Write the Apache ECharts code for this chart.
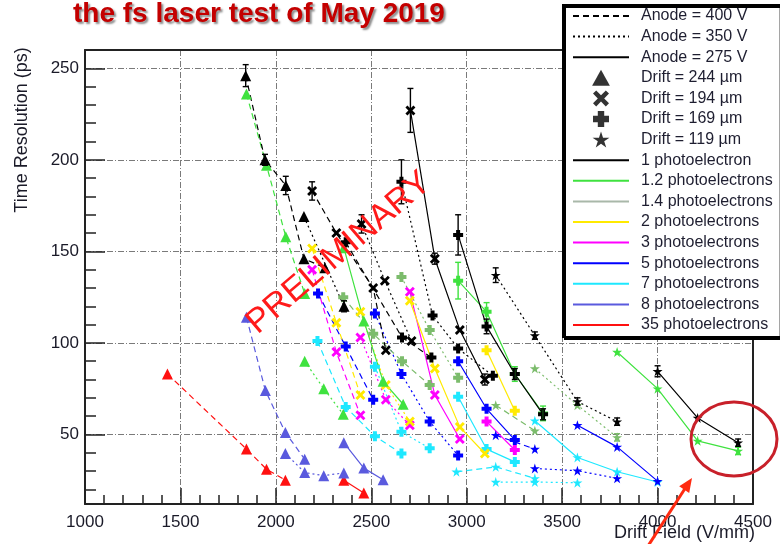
<!DOCTYPE html>
<html>
<head>
<meta charset="utf-8">
<script src="https://cdn.jsdelivr.net/npm/echarts@6/dist/echarts.min.js"></script>
<style>
html,body{margin:0;padding:0;background:#fff;}
#chart{width:780px;height:544px;}
</style>
</head>
<body>
<div id="chart"></div>
<script>
// Axis ticks
const xTicks = [1000, 1500, 2000, 2500, 3000, 3500, 4000, 4500];
const yTicks = [50, 100, 150, 200, 250];
const yMinorTicks = [20, 30, 40, 60, 70, 80, 90, 110, 120, 130, 140, 160, 170, 180, 190, 210, 220, 230, 240];

// Measurements: [drift field (V/mm), time resolution (ps), error (ps)]
// name pattern: pe<photoelectrons>_<anode V>_<drift um>
const pe1_400_244 = [[1842, 246, 6], [1943, 200, 3], [2052, 186, 5], [2147, 146, 0], [2257, 141, 0]];
const pe1_350_244 = [[2147, 169, 0], [2357, 120, 3]];
const pe1_400_194 = [[2190, 183, 5], [2317, 160, 0], [2510, 130, 0], [2576, 96, 0]];
const pe1_350_194 = [[2449, 165, 5], [2571, 134, 0], [2711, 101, 0]];
const pe1_275_194 = [[2705, 227, 12], [2833, 146, 3], [2964, 107, 0], [3095, 80, 3]];
const pe1_400_169 = [[2366, 155, 0], [2661, 103, 0], [2815, 92, 0]];
const pe1_350_169 = [[2658, 188, 12], [2821, 115, 0], [2955, 97, 0], [3137, 82, 0]];
const pe1_275_169 = [[2955, 159, 11], [3104, 109, 4], [3252, 83, 3], [3400, 61, 3]];
const pe1_350_119 = [[3152, 137, 4], [3357, 104, 2], [3580, 68, 2], [3788, 57, 2]];
const pe1_275_119 = [[4000, 84.5, 3], [4210, 59, 0], [4422, 45.5, 2]];

const pe12_400_244 = [[1846, 236, 0], [1951, 197, 0], [2052, 158, 0], [2151, 127, 0]];
const pe12_350_244 = [[2151, 90, 0], [2251, 75, 0], [2353, 61, 0]];
const pe12_275_244 = [[2356, 152, 0], [2461, 112, 0], [2562, 79, 0], [2667, 66.5, 0]];
const pe12_275_169 = [[2955, 134, 10], [3104, 117, 5], [3252, 83, 4], [3400, 61.5, 4]];
const pe12_275_119 = [[3788, 95, 0], [4000, 75, 0], [4210, 46.5, 0], [4422, 41, 2]];

const pe14_400_169 = [[2353, 125, 0], [2510, 105, 0], [2661, 90, 0], [2806, 77, 0]];
const pe14_350_169 = [[2658, 136, 0], [2806, 107, 0], [2955, 81, 0]];
const pe14_400_119 = [[3152, 66, 0], [3357, 52, 0]];
const pe14_350_119 = [[3357, 86, 0], [3580, 66, 0], [3788, 48.4, 2]];

const pe2_400_194 = [[2190, 151.6, 0], [2317, 111, 0], [2443, 71.5, 0]];
const pe2_350_194 = [[2443, 117, 0], [2576, 77, 0], [2702, 57, 0]];
const pe2_275_194 = [[2702, 123, 0], [2833, 86, 0], [2964, 54, 0], [3095, 39.6, 0]];
const pe2_275_169 = [[3104, 96, 0], [3252, 63, 0]];

const pe3_400_194 = [[2190, 140, 0], [2317, 95, 0], [2443, 60.5, 0]];
const pe3_350_194 = [[2443, 103, 0], [2576, 69, 0], [2702, 55, 0]];
const pe3_275_194 = [[2702, 128, 0], [2833, 71.5, 0], [2964, 47.5, 0]];
const pe3_275_169 = [[3104, 57, 0], [3252, 41.5, 0]];

const pe5_400_169 = [[2221, 127, 0], [2366, 98, 0], [2510, 69, 0]];
const pe5_350_169 = [[2519, 116, 0], [2658, 83, 0], [2806, 57, 0], [2955, 38.5, 0]];
const pe5_275_169 = [[2955, 90, 0], [3104, 64, 0], [3252, 47, 0]];
const pe5_400_119 = [[3152, 49.6, 0], [3357, 42, 0]];
const pe5_350_119 = [[3357, 31.4, 0], [3580, 30.2, 0], [3788, 26, 0]];
const pe5_275_119 = [[3580, 55, 0], [3788, 43.2, 0], [4000, 24.5, 0]];

const pe7_400_169 = [[2218, 101, 0], [2366, 65, 0], [2519, 49, 0], [2658, 39.6, 0]];
const pe7_350_169 = [[2519, 87, 0], [2658, 51.4, 0], [2806, 42.4, 0]];
const pe7_275_169 = [[2955, 70.6, 0], [3104, 42, 0], [3252, 35, 0]];
const pe7_400_119 = [[2946, 29.6, 0], [3152, 32.3, 0], [3357, 26, 0]];
const pe7_350_119 = [[3152, 24, 0], [3357, 24, 0], [3580, 23.6, 0]];
const pe7_275_119 = [[3357, 57.5, 0], [3580, 37.4, 0], [3788, 29.6, 0], [4000, 24, 0]];

const pe8_400_244 = [[1846, 114, 0], [1945, 74, 0], [2050, 51, 0], [2151, 36.5, 0]];
const pe8_350_244 = [[2050, 39.6, 0], [2151, 29.2, 0], [2251, 27.5, 0], [2356, 29, 0]];
const pe8_275_244 = [[2356, 45.5, 0], [2461, 31.6, 0], [2562, 25.3, 0]];

const pe35_400_244 = [[1432, 83, 0], [1846, 42, 0], [1951, 31, 0], [2050, 25, 0]];
const pe35_275_244 = [[2356, 25, 0], [2461, 18, 0]];

// Which curve belongs to which setting: [photoelectrons, anode V, drift um, points]
const curves = [
  ['35', 400, 244, pe35_400_244], ['35', 275, 244, pe35_275_244],
  ['8', 400, 244, pe8_400_244], ['8', 350, 244, pe8_350_244], ['8', 275, 244, pe8_275_244],
  ['7', 400, 169, pe7_400_169], ['7', 350, 169, pe7_350_169], ['7', 275, 169, pe7_275_169],
  ['7', 400, 119, pe7_400_119], ['7', 350, 119, pe7_350_119], ['7', 275, 119, pe7_275_119],
  ['5', 400, 169, pe5_400_169], ['5', 350, 169, pe5_350_169], ['5', 275, 169, pe5_275_169],
  ['5', 400, 119, pe5_400_119], ['5', 350, 119, pe5_350_119], ['5', 275, 119, pe5_275_119],
  ['3', 400, 194, pe3_400_194], ['3', 350, 194, pe3_350_194], ['3', 275, 194, pe3_275_194], ['3', 275, 169, pe3_275_169],
  ['2', 400, 194, pe2_400_194], ['2', 350, 194, pe2_350_194], ['2', 275, 194, pe2_275_194], ['2', 275, 169, pe2_275_169],
  ['1.4', 400, 169, pe14_400_169], ['1.4', 350, 169, pe14_350_169], ['1.4', 400, 119, pe14_400_119], ['1.4', 350, 119, pe14_350_119],
  ['1.2', 400, 244, pe12_400_244], ['1.2', 350, 244, pe12_350_244], ['1.2', 275, 244, pe12_275_244],
  ['1.2', 275, 169, pe12_275_169], ['1.2', 275, 119, pe12_275_119],
  ['1', 400, 244, pe1_400_244], ['1', 350, 244, pe1_350_244],
  ['1', 400, 194, pe1_400_194], ['1', 350, 194, pe1_350_194], ['1', 275, 194, pe1_275_194],
  ['1', 400, 169, pe1_400_169], ['1', 350, 169, pe1_350_169], ['1', 275, 169, pe1_275_169],
  ['1', 350, 119, pe1_350_119], ['1', 275, 119, pe1_275_119]
];

const photoLabels = [
  ['1', '1 photoelectron'], ['1.2', '1.2 photoelectrons'], ['1.4', '1.4 photoelectrons'],
  ['2', '2 photoelectrons'], ['3', '3 photoelectrons'], ['5', '5 photoelectrons'],
  ['7', '7 photoelectrons'], ['8', '8 photoelectrons'], ['35', '35 photoelectrons']
];
const anodeLabels = [[400, 'Anode = 400 V'], [350, 'Anode = 350 V'], [275, 'Anode = 275 V']];
const driftLabels = [[244, 'Drift = 244 µm'], [194, 'Drift = 194 µm'], [169, 'Drift = 169 µm'], [119, 'Drift = 119 µm']];

// ---- styling ----
const FONT = "'Liberation Sans', Arial, Helvetica, sans-serif";
const peColor = {
  '1': '#000000', '1.2': '#3fe23f', '1.4': '#7cbc6c', '2': '#ffea00', '3': '#ff00ff',
  '5': '#0000ff', '7': '#1ee8ff', '8': '#5a5ade', '35': '#ff1010'
};
const peLegendColor = Object.assign({}, peColor, { '1.4': '#a9b8a9' });
const anodeDash = { 400: [6, 4], 350: [2, 3], 275: 'solid' };
const driftSymbol = {
  244: 'path://M5,0L10,9L0,9Z',
  194: 'path://M2,0L5,3L8,0L10,2L7,5L10,8L8,10L5,7L2,10L0,8L3,5L0,2Z',
  169: 'path://M3,0H7V3H10V7H7V10H3V7H0V3H3Z',
  119: 'path://M5,0L6.2,3.6L10,3.6L6.9,5.8L8.1,9.5L5,7.2L1.9,9.5L3.1,5.8L0,3.6L3.8,3.6Z'
};
const driftSize = { 244: 11, 194: 10, 169: 10, 119: 10 };

const series = [];
curves.forEach(([pe, anode, drift, pts], i) => {
  const color = peColor[pe];
  series.push({
    id: 'curve' + i,
    type: 'line',
    data: pts,
    encode: { x: 0, y: 1 },
    symbol: driftSymbol[drift],
    symbolSize: driftSize[drift],
    showSymbol: true,
    itemStyle: { color: color },
    lineStyle: { color: color, width: 1.2, type: anodeDash[anode] },
    silent: true,
    z: 3
  });
  if (pts.some(p => p[2] > 0)) {
    series.push({
      id: 'err' + i,
      type: 'custom',
      data: pts,
      encode: { x: 0, y: 1 },
      silent: true,
      z: 4,
      renderItem: function (params, api) {
        const e = api.value(2);
        if (!e) return null;
        const x = api.value(0), y = api.value(1);
        const top = api.coord([x, y + e]);
        const bot = api.coord([x, y - e]);
        const st = { stroke: color, lineWidth: 1.4 };
        return {
          type: 'group',
          children: [
            { type: 'line', shape: { x1: top[0], y1: top[1], x2: bot[0], y2: bot[1] }, style: st },
            { type: 'line', shape: { x1: top[0] - 3, y1: top[1], x2: top[0] + 3, y2: top[1] }, style: st },
            { type: 'line', shape: { x1: bot[0] - 3, y1: bot[1], x2: bot[0] + 3, y2: bot[1] }, style: st }
          ]
        };
      }
    });
  }
});

// Legend-only entries (empty series)
const legendData = [];
anodeLabels.forEach(([a, label]) => {
  legendData.push({ name: label, itemStyle: { opacity: 0 } });
  series.push({ name: label, type: 'line', data: [], symbol: 'none',
    lineStyle: { color: '#000', width: 2, type: anodeDash[a] }, itemStyle: { color: '#000' } });
});
driftLabels.forEach(([d, label]) => {
  legendData.push({ name: label, icon: driftSymbol[d] });
  series.push({ name: label, type: 'scatter', data: [], symbol: driftSymbol[d], itemStyle: { color: '#000' } });
});
photoLabels.forEach(([pe, label]) => {
  legendData.push({ name: label, itemStyle: { opacity: 0 } });
  series.push({ name: label, type: 'line', data: [], symbol: 'none',
    lineStyle: { color: peLegendColor[pe], width: 3, type: 'solid' }, itemStyle: { color: peLegendColor[pe] } });
});

const gridDash = { color: '#7a7a7a', width: 1, type: [6, 2, 1, 2] };
const axisLineStyle = { color: '#222', width: 2 };
const tickStyle = { color: '#222', width: 1.5 };

const option = {
  animation: false,
  backgroundColor: '#ffffff',
  title: {
    text: 'the fs laser test of May 2019',
    left: 73, top: 0, padding: 0,
    textStyle: {
      fontFamily: FONT, fontSize: 28, fontWeight: 'bold', color: '#c40000',
      textShadowColor: 'rgba(0,0,0,0.45)', textShadowBlur: 2, textShadowOffsetX: 2, textShadowOffsetY: 2
    }
  },
  grid: { left: 85, right: 27, top: 50, bottom: 40 },
  xAxis: [
    {
      type: 'value', min: xTicks[0], max: xTicks[xTicks.length - 1], interval: 500,
      axisLine: { show: true, onZero: false, lineStyle: axisLineStyle },
      axisTick: { show: true, inside: true, length: 16, lineStyle: tickStyle },
      minorTick: { show: true, splitNumber: 5, length: 9, lineStyle: tickStyle },
      axisLabel: { show: true, margin: 10, fontFamily: FONT, fontSize: 17, color: '#1a1a28',
        formatter: v => String(v) },
      splitLine: { show: true, lineStyle: gridDash }
    },
    {
      type: 'value', position: 'top', min: xTicks[0], max: xTicks[xTicks.length - 1], interval: 500,
      axisLine: { show: true, onZero: false, lineStyle: axisLineStyle },
      axisTick: { show: false }, axisLabel: { show: false }, splitLine: { show: false }
    }
  ],
  yAxis: [
    {
      type: 'value', min: 12, max: 260, position: 'left',
      axisLine: { show: true, onZero: false, lineStyle: axisLineStyle },
      axisTick: { show: true, inside: true, length: 20, customValues: yTicks, lineStyle: tickStyle },
      axisLabel: { show: true, customValues: yTicks, margin: 6, fontFamily: FONT, fontSize: 17, color: '#1a1a28',
        formatter: v => String(v) },
      splitLine: { show: true, lineStyle: gridDash }
    },
    {
      type: 'value', min: 12, max: 260, position: 'left',
      axisLine: { show: false },
      axisTick: { show: true, inside: true, length: 11, customValues: yMinorTicks, lineStyle: tickStyle },
      axisLabel: { show: false }, splitLine: { show: false }
    },
    {
      type: 'value', min: 12, max: 260, position: 'right',
      axisLine: { show: true, onZero: false, lineStyle: axisLineStyle },
      axisTick: { show: false }, axisLabel: { show: false }, splitLine: { show: false }
    }
  ],
  legend: {
    orient: 'vertical', left: 563, top: 5,
    itemWidth: 56, itemHeight: 16, itemGap: 4.6,
    padding: [3, 8, 4, 9],
    symbolKeepAspect: true,
    backgroundColor: '#ffffff', borderColor: '#000', borderWidth: 2,
    shadowColor: '#000', shadowOffsetX: 2, shadowOffsetY: 2, shadowBlur: 0,
    selectedMode: false,
    textStyle: { fontFamily: FONT, fontSize: 16, color: '#1e1e30', padding: [0, 0, 0, 7] },
    data: legendData
  },
  graphic: [
    { type: 'text', x: 22, y: 130, rotation: Math.PI / 2, z: 10,
      style: { text: 'Time Resolution (ps)', font: '18px ' + FONT, fill: '#1a1a28', textAlign: 'center', textVerticalAlign: 'middle' } },
    { type: 'text', x: 755, y: 533, z: 10,
      style: { text: 'Drift Field (V/mm)', font: '18px ' + FONT, fill: '#1a1a28', textAlign: 'right', textVerticalAlign: 'middle' } },
    { type: 'text', x: 339, y: 253, rotation: 40.4 * Math.PI / 180, z: 20,
      style: { text: 'PRELIMINARY', font: '34px ' + FONT, fill: '#ff1a1a', textAlign: 'center', textVerticalAlign: 'middle' } },
    { type: 'ellipse', z: 30, shape: { cx: 734, cy: 439, rx: 43, ry: 37 },
      style: { fill: 'none', stroke: '#c8202a', lineWidth: 3 } },
    { type: 'line', z: 30, shape: { x1: 648, y1: 546, x2: 686, y2: 487 },
      style: { stroke: '#ff2a10', lineWidth: 3 } },
    { type: 'polygon', z: 30, shape: { points: [[692, 478], [689.2, 492.9], [679.2, 486.3]] },
      style: { fill: '#ff2a10' } }
  ],
  series: series
};

const chart = echarts.init(document.getElementById('chart'), null, { renderer: 'canvas' });
chart.setOption(option);
</script>
</body>
</html>
